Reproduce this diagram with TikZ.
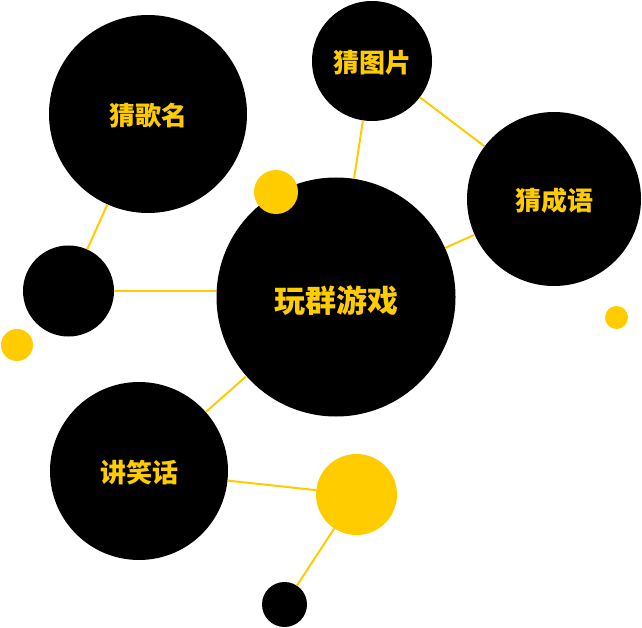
\documentclass[tikz,border=0pt]{standalone}
\usepackage{fontspec}
\newfontfamily\cjk{Noto Sans CJK SC}
\usetikzlibrary{positioning}
\definecolor{gameyellow}{HTML}{FFCC00}
\newcommand\bubbletext[2][-2pt]{\raisebox{#1}[\height][\depth]{#2}}
\tikzset{
  bubble/.style={circle, fill=black, inner sep=0pt, text=gameyellow,
    font=\cjk\bfseries\fontsize{26}{30}\selectfont},
  spot/.style={circle, fill=gameyellow, inner sep=0pt},
  blackspot/.style={circle, fill=black, inner sep=0pt},
  link/.style={gameyellow, line width=2pt},
}

\begin{document}
\begin{tikzpicture}[x=1pt, y=-1pt]
        \useasboundingbox (0,0) rectangle (642,628);
        % bubbles
        \node[bubble, minimum size=239pt, font=\cjk\bfseries\fontsize{31}{34}\selectfont] (play) at (336,297) {\bubbletext[-4pt]{玩群游戏}};
        \node[bubble, minimum size=198pt] (songs) at (148,114) {\bubbletext{猜歌名}};
        \node[bubble, minimum size=120pt] (pics) at (372,61) {\bubbletext{猜图片}};
        \node[bubble, minimum size=174pt] (idioms) at (554,199) {\bubbletext{猜成语}};
        \node[bubble, minimum size=178pt] (jokes) at (139,471) {\bubbletext{讲笑话}};
        % small dots
        \node[blackspot, minimum size=91pt] (side) at (68.5,291) {};
        \node[blackspot, minimum size=45pt] (tail) at (284.5,604.5) {};
        \node[spot, minimum size=81pt] (hub) at (356.5,494.5) {};
        \node[spot, minimum size=44pt] (bead) at (276,192) {};
        \node[spot, minimum size=32pt] (leftdrop) at (17,345) {};
        \node[spot, minimum size=23pt] (rightdrop) at (616.5,317.5) {};
        % links
        \draw[link] (side) -- (songs);
        \draw[link] (side.east) -- (side.east -| play.west);
        \draw[link] (play) -- (pics);
        \draw[link] (pics) -- (idioms);
        \draw[link] (play) -- (idioms);
        \draw[link] (play) -- (jokes);
        \draw[link] (jokes) -- (hub);
        \draw[link] (hub) -- (tail);
      \end{tikzpicture}
\end{document}
